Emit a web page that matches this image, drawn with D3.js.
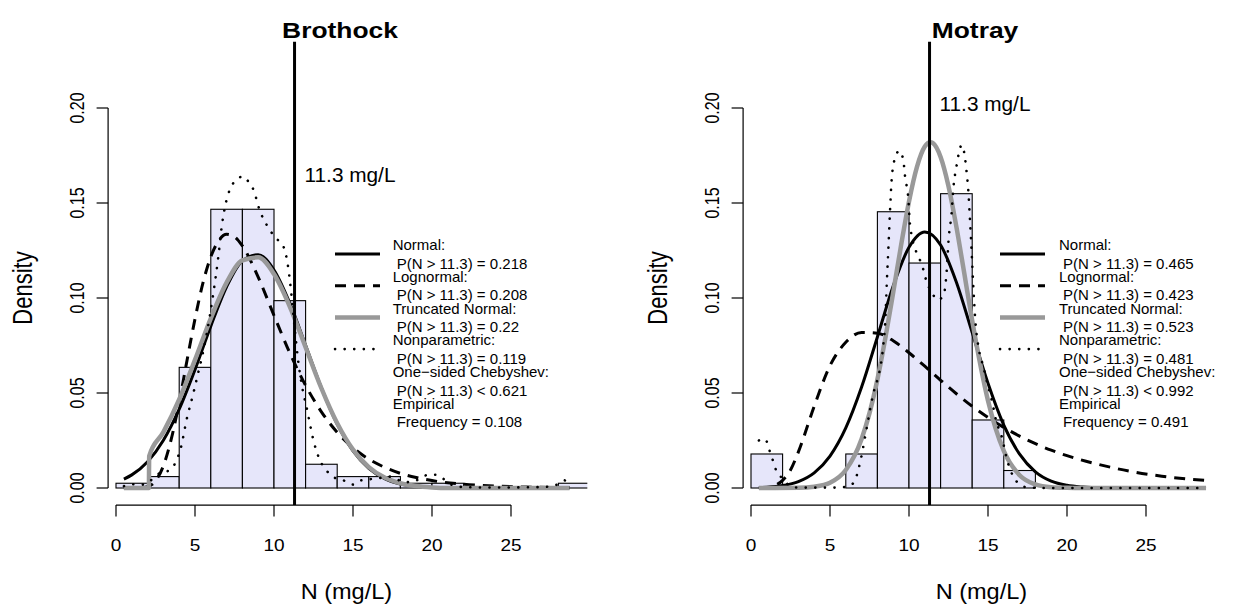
<!DOCTYPE html>
<html><head><meta charset="utf-8">
<script src="https://cdn.jsdelivr.net/npm/d3@7"></script>
<style>
body{margin:0;background:#fff}
text{font-family:"Liberation Sans",Arial,Helvetica,sans-serif;fill:#000}
</style>
</head><body>
<svg id="c" width="1234" height="608"></svg>
<script>
// ---------------- data ----------------
const binStarts = [0,2,4,6,8,10,12,14,16,18,20,22,24,26,28];
const binWidth = 2;
const xTicks = [0,5,10,15,20,25];
const yTicks = [0,0.05,0.10,0.15,0.20];
const yTickLabels = ["0.00","0.05","0.10","0.15","0.20"];
const threshold = 11.3;
const thresholdLabel = "11.3 mg/L";
const panelTitles = ["Brothock","Motray"];

const brothockHist = [0.0025,0.006,0.0635,0.1467,0.1467,0.0986,0.0125,0.006,0.006,0.0025,0.0025,0,0,0,0.0025];
const motrayHist   = [0.0179,0,0,0.0179,0.1454,0.1184,0.1549,0.0358,0.0092];

const brothockNormal = [[0.5,0.0047],[1,0.0069],[2,0.0138],[3,0.0251],[4,0.0415],[5,0.0623],[6,0.0852],[7,0.1059],[8,0.1196],[9,0.1228],[10,0.1147],[11,0.0973],[12,0.0751],[13,0.0527],[14,0.0336],[15,0.0195],[16,0.0103],[17,0.0049],[18,0.0021],[19,0.0009],[20,0.0003],[22,0],[28.7,0]];
const brothockLognormal = [[0.5,0],[1.5,0.00005],[2,0.0007],[2.5,0.0037],[3,0.0117],[3.5,0.0258],[4,0.0452],[4.5,0.0674],[5,0.089],[5.5,0.1078],[6,0.1217],[6.5,0.1302],[7,0.1335],[7.5,0.1322],[8,0.1274],[9,0.111],[10,0.0908],[11,0.0711],[12,0.054],[13,0.0401],[14,0.0293],[15,0.0212],[16,0.0152],[17,0.0109],[18,0.0077],[19,0.0055],[20,0.0039],[22,0.002],[24,0.001],[26,0.0005],[28.7,0.0002]];
const brothockTruncated = [[0.5,0],[2.08,0],[2.1,0.0168],[3,0.0294],[4,0.0466],[5,0.0674],[6,0.0893],[7,0.1081],[8,0.1198],[9,0.1214],[10,0.1126],[11,0.0955],[12,0.0741],[13,0.0525],[14,0.0341],[15,0.0202],[16,0.011],[17,0.0055],[18,0.0025],[19,0.001],[20,0.0003],[21,0],[28.7,0]];
const brothockNonpar = [[0.5,0.001],[1.0,0.002],[1.7,0.0018],[2.2,0.004],[2.8,0.008],[3.3,0.009],[3.8,0.014],[4.1,0.021],[4.47,0.036],[4.9,0.05],[5.1,0.057],[5.74,0.081],[6.16,0.1025],[6.48,0.122],[6.69,0.1375],[6.9,0.148],[7.2,0.157],[7.6,0.162],[8.06,0.164],[8.4,0.161],[8.7,0.157],[9.1,0.146],[9.5,0.139],[10.06,0.132],[10.6,0.127],[10.9,0.116],[11.1,0.102],[11.3,0.085],[11.5,0.069],[11.7,0.057],[12.1,0.041],[12.5,0.025],[12.9,0.0147],[13.3,0.0095],[13.7,0.006],[14.4,0.004],[15.0,0.0018],[15.5,0.004],[16.5,0.005],[17.3,0.006],[18.3,0.003],[19.0,0.004],[19.8,0.007],[20.2,0.007],[21.3,0.0015],[22,0.0005],[23,0.0003],[25,0.0003],[27,0.0005],[28.0,0.002],[28.4,0.004],[28.7,0.0005]];

const motrayNormal = [[0.5,0.0002],[1,0.0004],[2,0.0013],[3,0.0034],[4,0.008],[5,0.0168],[6,0.0316],[7,0.0531],[8,0.0795],[9,0.1063],[10,0.1267],[11,0.1348],[12,0.1279],[13,0.1083],[14,0.0818],[15,0.0551],[16,0.0331],[17,0.0178],[18,0.0085],[19,0.0036],[20,0.0014],[21,0.0005],[22,0.0001],[28.8,0]];
const motrayLognormal = [[0.5,0],[1,0.0001],[1.5,0.0012],[2,0.004],[2.5,0.0095],[3,0.019],[4,0.043],[5,0.0644],[6,0.0767],[7,0.0819],[8,0.0815],[9,0.0775],[10,0.0712],[11,0.0641],[12,0.0567],[13,0.0496],[14,0.043],[15,0.0371],[16,0.0319],[17,0.0273],[18,0.0233],[19,0.0199],[20,0.017],[22,0.0124],[24,0.0088],[26,0.0062],[28.8,0.004]];
const motrayTruncated = [[0.5,0],[3,0.0001],[4,0.0007],[5,0.0028],[6,0.0095],[7,0.0258],[7.5,0.0394],[8,0.0571],[8.5,0.0787],[9,0.1029],[9.5,0.1278],[10,0.1508],[10.5,0.1689],[11,0.1797],[11.35,0.182],[11.5,0.1816],[12,0.1742],[12.5,0.1588],[13,0.1374],[13.5,0.1129],[14,0.0881],[15,0.046],[16,0.0195],[17,0.0067],[18,0.0019],[19,0.0004],[20,0.0001],[21,0],[28.8,0]];
const motrayNonpar = [[0.5,0.025],[0.8,0.026],[1.0,0.0244],[1.2,0.019],[1.41,0.0139],[1.58,0.0095],[2.0,0.005],[2.5,0.001],[3,0.0002],[5.5,0.0002],[6.2,0.001],[6.58,0.004],[6.79,0.0095],[6.94,0.0147],[7.07,0.02],[7.2,0.026],[7.38,0.034],[7.53,0.041],[7.7,0.048],[7.85,0.053],[8.1,0.06],[8.37,0.075],[8.5,0.088],[8.6,0.109],[8.7,0.127],[8.8,0.146],[8.9,0.162],[9.11,0.1735],[9.39,0.1775],[9.64,0.1726],[9.75,0.164],[9.96,0.152],[10.06,0.139],[10.49,0.1235],[10.8,0.118],[11.1,0.109],[11.5,0.102],[11.85,0.099],[12.2,0.102],[12.4,0.116],[12.5,0.13],[12.7,0.145],[12.8,0.157],[13.0,0.169],[13.34,0.1805],[13.54,0.174],[13.65,0.166],[13.75,0.157],[13.86,0.141],[13.97,0.1235],[14.07,0.106],[14.2,0.088],[14.4,0.074],[14.7,0.064],[14.9,0.057],[15.3,0.044],[15.5,0.036],[15.65,0.032],[15.87,0.027],[16.2,0.015],[16.6,0.006],[17,0.002],[17.5,0.0003],[18.5,0],[28.8,0]];

const legendNames = ["Normal:","Lognormal:","Truncated Normal:","Nonparametric:","One\u2212sided Chebyshev:","Empirical"];
const brothockLegendValues = ["P(N > 11.3) = 0.218","P(N > 11.3) = 0.208","P(N > 11.3) = 0.22","P(N > 11.3) = 0.119","P(N > 11.3) < 0.621","Frequency = 0.108"];
const motrayLegendValues   = ["P(N > 11.3) = 0.465","P(N > 11.3) = 0.423","P(N > 11.3) = 0.523","P(N > 11.3) = 0.481","P(N > 11.3) < 0.992","Frequency = 0.491"];

// ---------------- styles ----------------
const styles = {
  normal:    {stroke:"#000", width:3, dash:null},
  lognormal: {stroke:"#000", width:3, dash:"11,8"},
  truncated: {stroke:"#999", width:4.5, dash:null},
  nonpar:    {stroke:"#000", width:2.6, dash:"0.1,9.5", cap:"round"}
};
const legendStyleKeys = ["normal","lognormal","truncated","nonpar",null,null];

const svg = d3.select("#c");
const defs = svg.append("defs");

function drawPanel(p){
  const dx = p.dx;
  const x = d3.scaleLinear().domain([0,25]).range([116+dx, 511+dx]);
  const y = d3.scaleLinear().domain([0,0.2]).range([488,108]);
  const g = svg.append("g");

  defs.append("clipPath").attr("id","clip"+p.id).append("rect")
    .attr("x", x(-0.6)).attr("y", y(0.235))
    .attr("width", x(29.83)-x(-0.6)).attr("height", y(-0.009)-y(0.235));
  const pg = g.append("g").attr("clip-path","url(#clip"+p.id+")");

  // histogram
  pg.selectAll("rect.bar").data(p.hist).join("rect").attr("class","bar")
    .attr("x",(d,i)=>x(binStarts[i]))
    .attr("width",(d,i)=>x(binStarts[i]+binWidth)-x(binStarts[i]))
    .attr("y",d=>y(d)).attr("height",d=>y(0)-y(d))
    .attr("fill","#E6E6FA").attr("stroke","#000").attr("stroke-width",1.1);

  const line = d3.line().x(d=>x(d[0])).y(d=>y(d[1])).curve(d3.curveMonotoneX);
  const curves = [["normal",p.normal],["lognormal",p.lognormal],["truncated",p.truncated],["nonpar",p.nonpar]];
  curves.forEach(([k,data])=>{
    const s = styles[k];
    pg.append("path").attr("d",line(data)).attr("fill","none")
      .attr("stroke",s.stroke).attr("stroke-width",s.width)
      .attr("stroke-dasharray",s.dash).attr("stroke-linecap",s.cap||"butt")
      .attr("stroke-linejoin","round");
  });

  // threshold line
  pg.append("line").attr("x1",x(threshold)).attr("x2",x(threshold))
    .attr("y1",y(0.235)).attr("y2",y(-0.009)).attr("stroke","#000").attr("stroke-width",3);
  g.append("text").attr("transform",`translate(${x(threshold)+10},${p.labelY}) scale(1.04,1)`)
    .attr("font-size",20).text(thresholdLabel);

  // x axis
  const axY = y(-0.009);
  g.append("line").attr("x1",x(xTicks[0])).attr("x2",x(xTicks[xTicks.length-1]))
    .attr("y1",axY).attr("y2",axY).attr("stroke","#000").attr("stroke-width",1.2);
  xTicks.forEach(t=>{
    g.append("line").attr("x1",x(t)).attr("x2",x(t)).attr("y1",axY).attr("y2",axY+11.5)
      .attr("stroke","#000").attr("stroke-width",1.2);
    g.append("text").attr("transform",`translate(${x(t)},551) scale(1.12,1)`).attr("text-anchor","middle")
      .attr("font-size",17).text(t);
  });
  // y axis
  const axX = x(-0.5);
  g.append("line").attr("x1",axX).attr("x2",axX).attr("y1",y(0)).attr("y2",y(0.2))
    .attr("stroke","#000").attr("stroke-width",1.2);
  yTicks.forEach((t,i)=>{
    g.append("line").attr("x1",axX).attr("x2",axX-11.5).attr("y1",y(t)).attr("y2",y(t))
      .attr("stroke","#000").attr("stroke-width",1.2);
    g.append("text").attr("transform",`translate(${axX-24.5},${y(t)}) rotate(-90) scale(1,1.3)`)
      .attr("text-anchor","middle").attr("font-size",16).text(yTickLabels[i]);
  });

  // titles
  g.append("text").attr("transform",`translate(${p.titleX},38) scale(1.2,1)`).attr("text-anchor","middle")
    .attr("font-size",22).attr("font-weight","bold").text(p.title);
  g.append("text").attr("transform",`translate(${x(14.58)},599) scale(1.07,1)`).attr("text-anchor","middle")
    .attr("font-size",22).text("N (mg/L)");
  g.append("text").attr("transform",`translate(${axX-76.5},288) rotate(-90) scale(1,1.25)`)
    .attr("text-anchor","middle").attr("font-size",22).text("Density");

  // legend
  legendNames.forEach((name,i)=>{
    const cy = 254 + i*31.7;
    const k = legendStyleKeys[i];
    if(k){
      const s = styles[k];
      g.append("line").attr("x1",p.legX1).attr("x2",p.legX2).attr("y1",cy).attr("y2",cy)
        .attr("stroke",s.stroke).attr("stroke-width",s.width)
        .attr("stroke-dasharray",s.dash).attr("stroke-linecap",s.cap||"butt");
    }
    g.append("text").attr("x",p.legTX).attr("y",cy-3.8).attr("font-size",15).text(name);
    g.append("text").attr("x",p.legTX+4).attr("y",cy+14.7).attr("font-size",15).text(p.legendValues[i]);
  });
}

drawPanel({id:"b", dx:0, title:panelTitles[0], titleX:340, hist:brothockHist,
  normal:brothockNormal, lognormal:brothockLognormal, truncated:brothockTruncated, nonpar:brothockNonpar,
  labelY:182, legX1:335, legX2:380, legTX:392.7, legendValues:brothockLegendValues});
drawPanel({id:"m", dx:635, title:panelTitles[1], titleX:975, hist:motrayHist,
  normal:motrayNormal, lognormal:motrayLognormal, truncated:motrayTruncated, nonpar:motrayNonpar,
  labelY:111, legX1:1000, legX2:1045, legTX:1059, legendValues:motrayLegendValues});
</script>
</body></html>
